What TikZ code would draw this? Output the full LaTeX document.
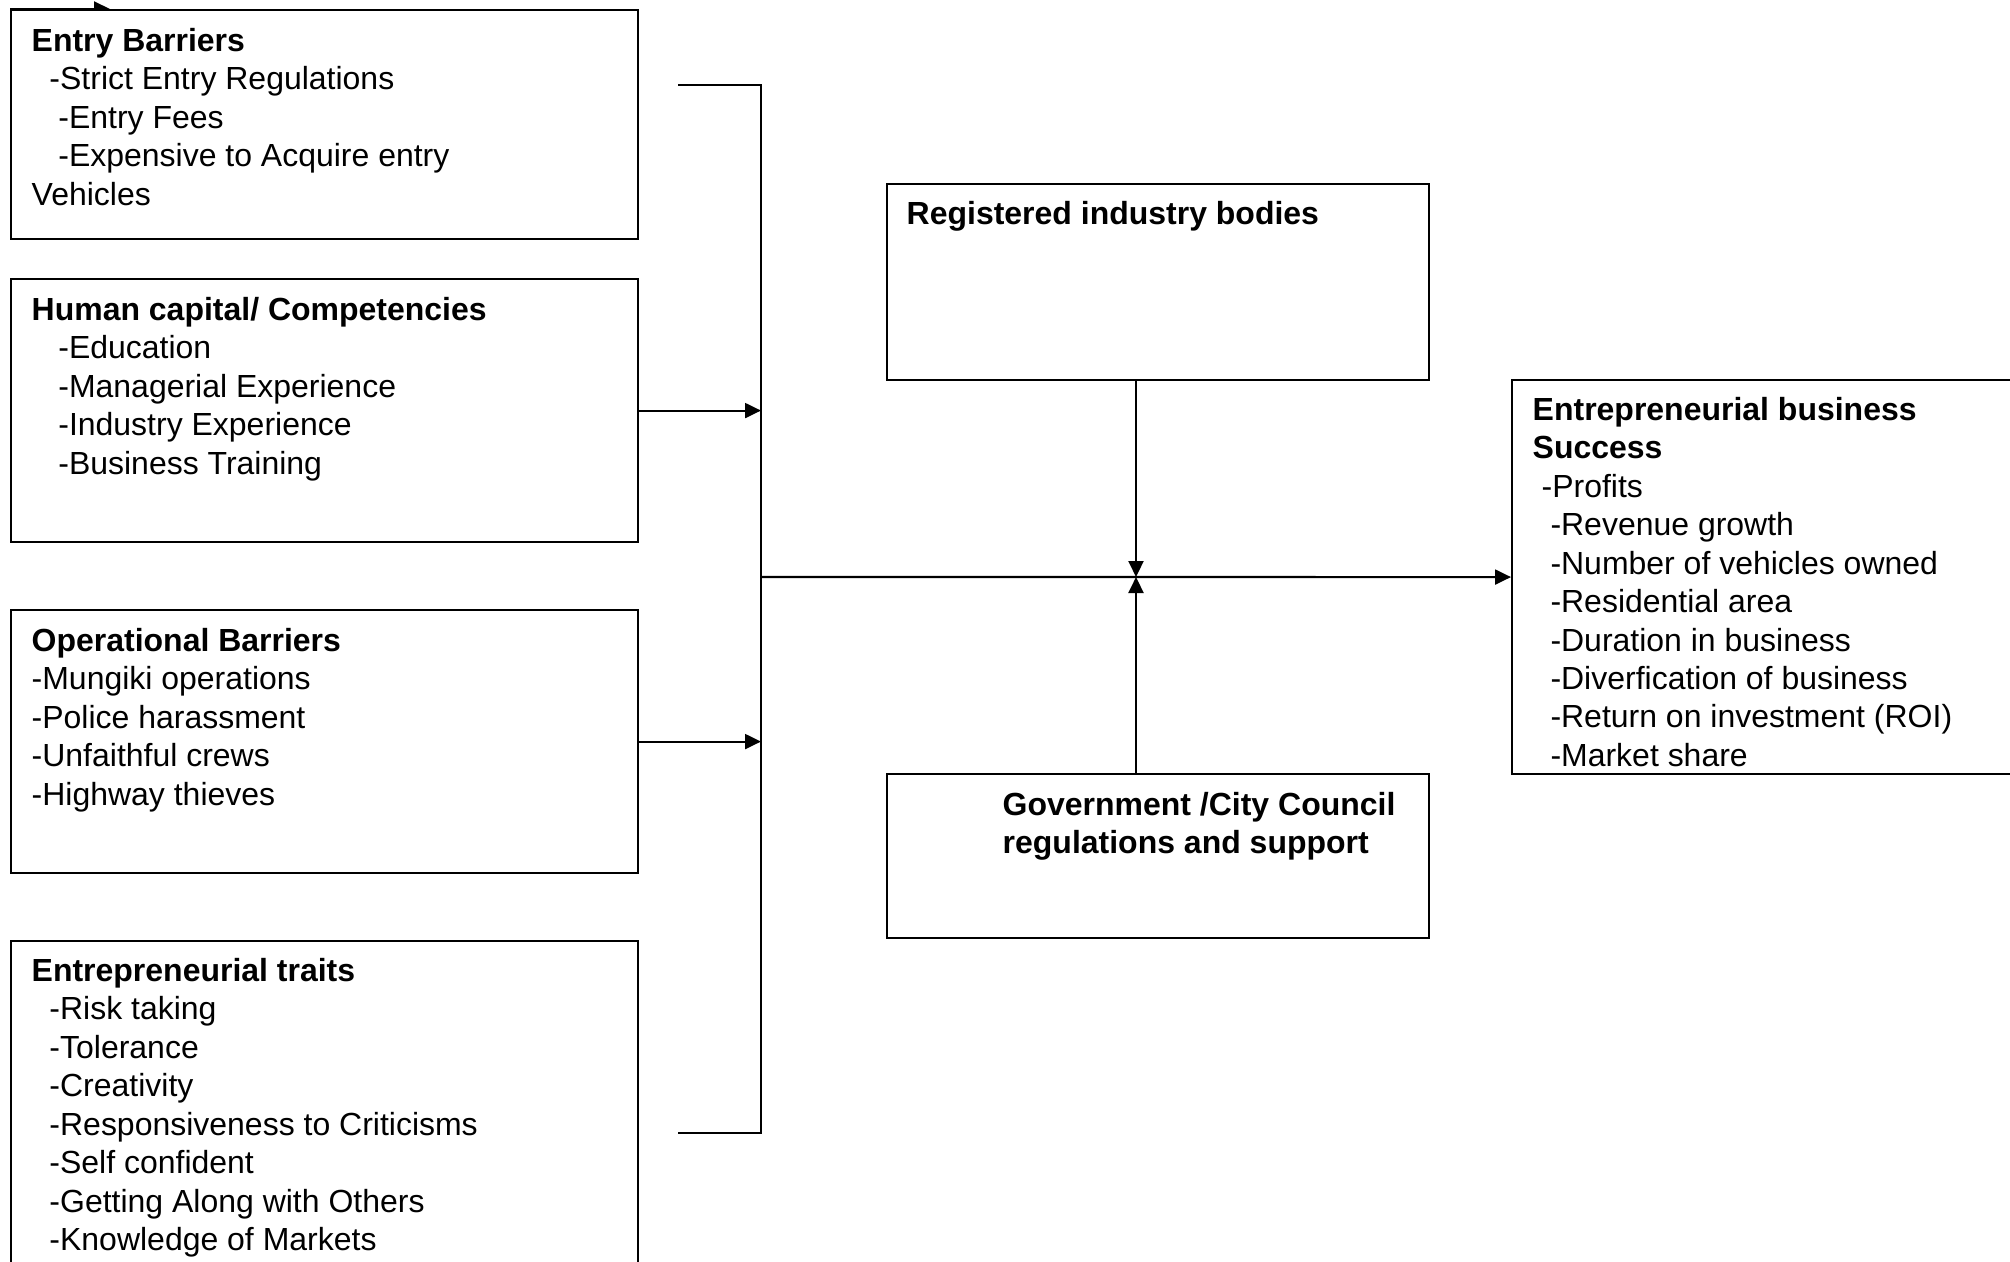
\documentclass[tikz,border=0pt]{standalone}
\usepackage{fontspec}
\setmainfont{Liberation Sans}
\usetikzlibrary{arrows.meta}

\newcommand{\ind}[1]{\hspace*{#1\fontdimen2\font}}

\begin{document}
\begin{tikzpicture}[
    box/.style={draw, line width=0.6pt, fill=white, anchor=north west, inner sep=0pt},
    txt/.style={anchor=north west, align=left, inner sep=0pt, font=\fontsize{9.1}{10.94}\selectfont,
      execute at begin node={\rule{0pt}{8.5pt}}},
    arr/.style={-{Triangle[length=0.16cm,width=0.15cm]}, line width=0.6pt}]
      \clip (0,0) rectangle (20.10,-12.61);
      % \draw[help lines] (0,0) grid (20,-12);

      % stray arrow at the top edge
      \coordinate (topin) at (0.10,-0.09);
      \coordinate (topout) at (1.10,-0.09);
      \draw[arr] (topin) -- (topout);

      % left column
      \draw (0.10,-0.09) node[box, minimum width=6.27cm, minimum height=2.29cm] (entry) {};
      \draw (0.10,-2.78) node[box, minimum width=6.27cm, minimum height=2.63cm] (human) {};
      \draw (0.10,-6.09) node[box, minimum width=6.27cm, minimum height=2.63cm] (oper) {};
      \draw (0.10,-9.40) node[box, minimum width=6.27cm, minimum height=3.50cm] (traits) {};

      \node[txt] at ([shift={(0.21,-0.185)}]entry.north west) {\textbf{Entry Barriers}\\
        \ind2-Strict Entry Regulations\\ \ind3-Entry Fees\\ \ind3-Expensive to Acquire entry\\ Vehicles};
      \node[txt] at ([shift={(0.21,-0.185)}]human.north west) {\textbf{Human capital/ Competencies}\\
        \ind3-Education\\ \ind3-Managerial Experience\\ \ind3-Industry Experience\\ \ind3-Business Training};
      \node[txt] at ([shift={(0.21,-0.185)}]oper.north west) {\textbf{Operational Barriers}\\
        -Mungiki operations\\ -Police harassment\\ -Unfaithful crews\\ -Highway thieves};
      \node[txt] at ([shift={(0.21,-0.175)}]traits.north west) {\textbf{Entrepreneurial traits}\\
        \ind2-Risk taking\\ \ind2-Tolerance\\ \ind2-Creativity\\ \ind2-Responsiveness to Criticisms\\
        \ind2-Self confident\\ \ind2-Getting Along with Others\\ \ind2-Knowledge of Markets};

      % middle column
      \draw (8.86,-1.83) node[box, minimum width=5.42cm, minimum height=1.96cm] (bodies) {};
      \draw (8.86,-7.73) node[box, minimum width=5.42cm, minimum height=1.64cm] (govt) {};
      \node[txt] at ([shift={(0.20,-0.11)}]bodies.north west) {\textbf{Registered industry bodies}};
      \node[txt] at ([shift={(1.16,-0.185)}]govt.north west) {\textbf{Government /City Council}\\
        \textbf{regulations and support}};

      % right column
      \draw (15.11,-3.79) node[box, minimum width=5.50cm, minimum height=3.94cm] (success) {};
      \node[txt] at ([shift={(0.21,-0.175)}]success.north west) {\textbf{Entrepreneurial business}\\
        \textbf{Success}\\ \ind1-Profits\\ \ind2-Revenue growth\\ \ind2-Number of vehicles owned\\
        \ind2-Residential area\\ \ind2-Duration in business\\ \ind2-Diverfication of business\\
        \ind2-Return on investment (ROI)\\ \ind2-Market share};

      % bracket and connectors
      \coordinate (bktop) at (6.78,-0.85);
      \coordinate (bkbot) at (6.78,-11.33);
      \coordinate (bkmid) at (7.61,-5.77);
      \coordinate (join) at (11.36,-5.77);

      \draw[line width=0.6pt] (bktop) -| (bkmid) |- (bkbot);
      \draw[arr] (human.east) -- (human.east -| bkmid);
      \draw[arr] (oper.east) -- (oper.east -| bkmid);
      \draw[arr] (bkmid) -- (success.west);
      \draw[arr] (join |- bodies.south) -- (join);
      \draw[arr] (join |- govt.north) -- (join);
\end{tikzpicture}
\end{document}
